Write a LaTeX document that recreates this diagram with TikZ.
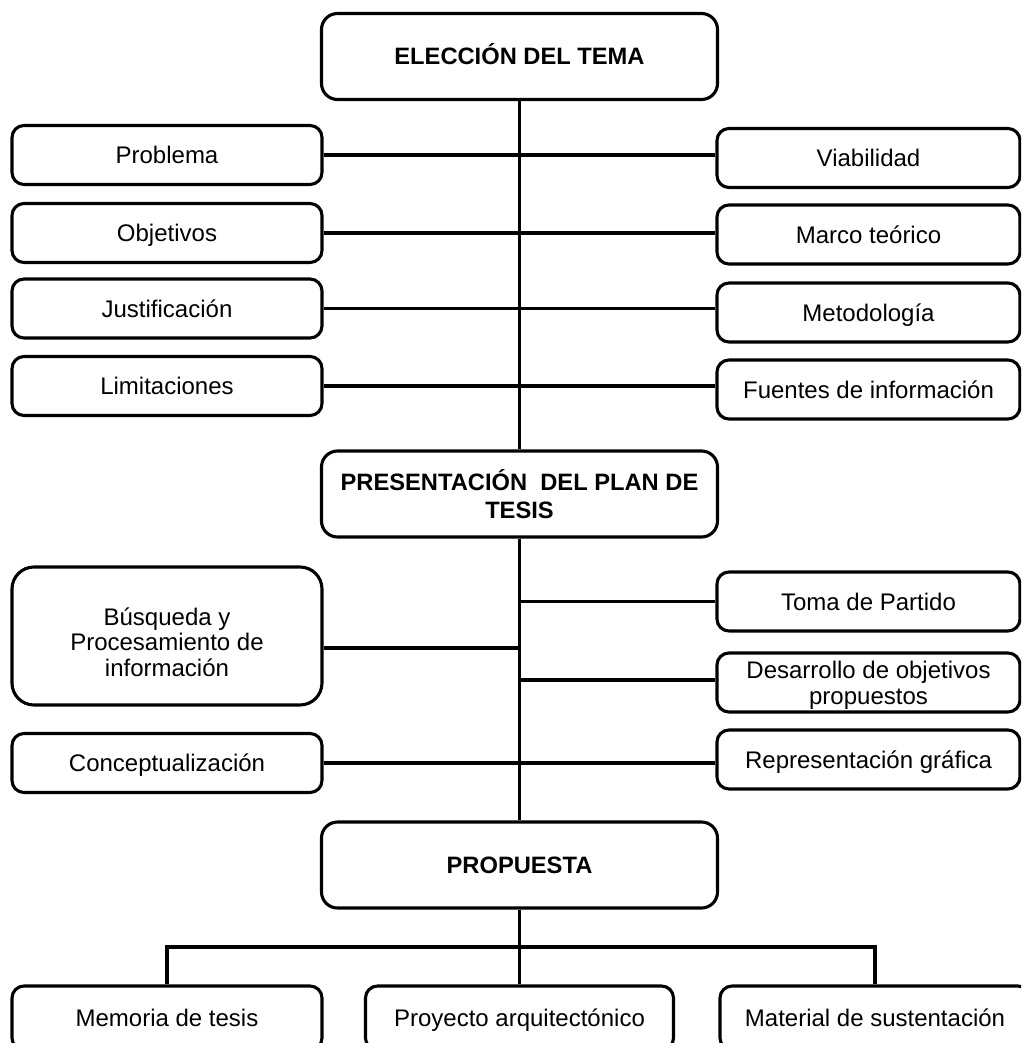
\documentclass[tikz,border=0pt]{standalone}
\usepackage{fontspec}
\setmainfont{Liberation Sans}
\begin{document}
\begin{tikzpicture}[x=1pt,y=-1pt,
  box/.style={draw=black, line width=3.1pt, rounded corners=12pt, inner sep=0pt,
    align=center, text=black, font=\fontsize{24}{25.5}\selectfont},
  one/.style={text height=19.5pt, text depth=2.5pt},
  lbl/.style={align=center, text=black, inner sep=0pt, font=\fontsize{24}{25.5}\selectfont},
  title/.style={box, rounded corners=16pt, minimum width=396pt, minimum height=86pt,
    font=\bfseries\fontsize{23.7}{28}\selectfont},
  lbox/.style={box, one, minimum width=310pt, minimum height=59pt},
  rbox/.style={box, one, minimum width=303pt, minimum height=59pt},
  bbox/.style={box, one, minimum width=308pt, minimum height=64pt},
  link/.style={draw=black, line width=3.3pt}]
\useasboundingbox (0,0) rectangle (1021,1043);
\clip (0,0) rectangle (1021,1043);

% main stages
\node[title, one] (top)  at (519.5,56.5) {ELECCIÓN DEL TEMA};
\node[title] (pres) at (519.5,494)  {PRESENTACIÓN~ DEL PLAN DE\\TESIS};
\node[title, one] (prop) at (519.5,865)  {PROPUESTA};

% plan de tesis items
\node[lbox] (prob)  at (167,155)   {Problema};
\node[rbox] (viab)  at (868.5,158) {Viabilidad};
\node[lbox] (obj)   at (167,233)   {Objetivos};
\node[rbox] (marco) at (868.5,234.5) {Marco teórico};
\node[lbox] (just)  at (167,308.5) {Justificación};
\node[rbox] (met)   at (868.5,312.5) {Metodología};
\node[lbox] (lim)   at (167,386)   {Limitaciones};
\node[rbox] (fue)   at (868.5,389.5) {Fuentes de información};

% development items
\node[box, rounded corners=22pt, minimum width=310pt, minimum height=138pt,
  label={[lbl, yshift=-6pt]center:{Búsqueda y\\Procesamiento de\\información}}]
  (busq) at (167,636) {};
\node[rbox] (toma) at (868.5,601.5) {Toma de Partido};
\node[box, minimum width=303pt, minimum height=59pt,
  label={[lbl, yshift=-3pt]center:{Desarrollo de objetivos\\propuestos}}]
  (desa) at (868.5,682.5) {};
\node[lbox] (conc) at (167,763)   {Conceptualización};
\node[rbox] (repr) at (868.5,759.5) {Representación gráfica};

% deliverables
\node[bbox, minimum width=310pt] (mem)  at (167,1018) {Memoria de tesis};
\node[bbox] (proy) at (519.5,1018) {Proyecto arquitectónico};
\node[bbox, minimum width=310pt] (mat)  at (875,1018) {Material de sustentación};

% spine
\draw[link] (top.south) -- (pres.north);
\draw[link] (pres.south) -- (prop.north);
\draw[link] (prop.south) -- (proy.north);

% branches of the first stage
\draw[link] (prob.east) -- (prob.east -| viab.west);
\draw[link] (obj.east)  -- (obj.east -| marco.west);
\draw[link] (just.east) -- (just.east -| met.west);
\draw[link] (lim.east)  -- (lim.east -| fue.west);

% branches of the second stage
\draw[link] ([yshift=-12pt]busq.east) -- ([yshift=-12pt]busq.east -| pres.south);
\draw[link] (toma.west -| pres.south) -- (toma.west);
\draw[link] ([yshift=2.5pt]desa.west -| pres.south) -- ([yshift=2.5pt]desa.west);
\draw[link] (conc.east) -- (conc.east -| repr.west);

% bus to the deliverables
\coordinate (bus) at (519.5,947);
\draw[link] (mem.north) |- (bus) -| (mat.north);
\end{tikzpicture}
\end{document}
